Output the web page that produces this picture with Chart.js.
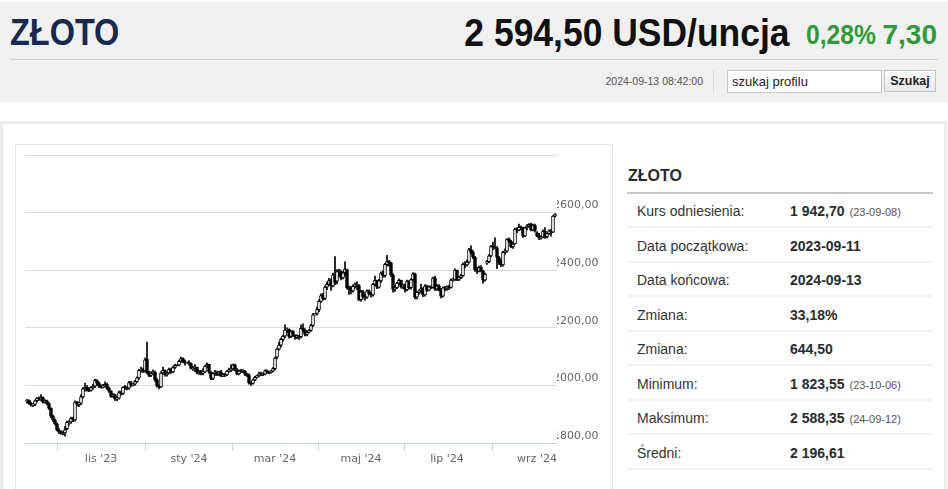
<!DOCTYPE html>
<html lang="pl"><head><meta charset="utf-8">
<script src="https://cdn.jsdelivr.net/npm/chart.js@4.4.1/dist/chart.umd.min.js"></script>
<style>
html,body{margin:0;padding:0;background:#fff;width:948px;height:489px;overflow:hidden;font-family:"Liberation Sans",Arial,sans-serif;color:#333;}
.abs{position:absolute;white-space:nowrap;}
#band{left:0;top:2px;width:948px;height:100px;background:#f0f0f0;}
#title{left:10px;top:14px;font:bold 37px/37px "Liberation Sans",Arial,sans-serif;color:#172a4d;transform:scaleX(0.877);transform-origin:left top;}
#price{right:158px;top:14px;font:bold 38px/38px "Liberation Sans",Arial,sans-serif;color:#111;transform:scaleX(0.933);transform-origin:right top;}
#pct{left:806px;top:21px;font:bold 28px/28px "Liberation Sans",Arial,sans-serif;color:#2f9a3a;transform:scaleX(0.88);transform-origin:left top;}
#chg{right:11px;top:21px;font:bold 28px/28px "Liberation Sans",Arial,sans-serif;color:#2f9a3a;}
#sep{left:10px;top:59px;width:928px;height:1px;background:#cfcfcf;}
#dt{right:245px;top:75px;font:10.5px/12px "Liberation Sans",Arial,sans-serif;color:#555;}
#vsep{left:713px;top:70px;width:1px;height:23px;background:#dadada;}
#inp{left:727px;top:70px;width:149px;height:21px;background:#fff;border:1px solid #c9c9c9;font:13px/21px "Liberation Sans",Arial,sans-serif;color:#222;padding-left:4px;box-sizing:content-box;}
#btn{left:884px;top:70px;width:50px;height:20px;background:linear-gradient(#fbfbfb,#e9e9e9);border:1px solid #c6c6c6;font:bold 12.5px/20px "Liberation Sans",Arial,sans-serif;color:#222;text-align:center;}
#outer{left:0;top:121px;width:941px;height:400px;border:3px solid #ececec;border-bottom:none;}
#cbox{left:15px;top:144px;width:596px;height:360px;border:1px solid #e6e6e6;border-bottom:none;}
#cv{position:absolute;left:16px;top:145px;}
#ptitle{left:628px;top:168px;font:bold 16px/16px "Liberation Sans",Arial,sans-serif;color:#2b2b2b;}
#pline{left:627px;top:192px;width:306px;height:2px;background:#c8c8c8;}
.row{position:absolute;left:627px;width:306px;height:34px;border-bottom:2px solid #f1f1f1;box-sizing:border-box;}
.lab{position:absolute;left:10px;top:9px;font:14px/16px "Liberation Sans",Arial,sans-serif;color:#333;}
.val{position:absolute;left:163px;top:9px;font:bold 14px/16px "Liberation Sans",Arial,sans-serif;color:#2b2b2b;}
.sm{font:11px "Liberation Sans",Arial,sans-serif;color:#555;font-weight:normal;margin-left:5px;}
</style></head>
<body>
<div id="band" class="abs"></div>
<div id="title" class="abs">ZŁOTO</div>
<div id="price" class="abs">2 594,50 USD/uncja</div>
<div id="pct" class="abs">0,28%</div>
<div id="chg" class="abs">7,30</div>
<div id="sep" class="abs"></div>
<div id="dt" class="abs">2024-09-13 08:42:00</div>
<div id="vsep" class="abs"></div>
<div id="inp" class="abs">szukaj profilu</div>
<div id="btn" class="abs">Szukaj</div>
<div id="outer" class="abs"></div>
<div id="cbox" class="abs"></div>
<canvas id="cv" width="595" height="344"></canvas>
<div id="ptitle" class="abs">ZŁOTO</div>
<div id="pline" class="abs"></div>
<div class="row" style="top:194px"><span class="lab">Kurs odniesienia:</span><span class="val">1 942,70<span class="sm">(23-09-08)</span></span></div>
<div class="row" style="top:228.5px"><span class="lab">Data początkowa:</span><span class="val">2023-09-11</span></div>
<div class="row" style="top:263px"><span class="lab">Data końcowa:</span><span class="val">2024-09-13</span></div>
<div class="row" style="top:297.5px"><span class="lab">Zmiana:</span><span class="val">33,18%</span></div>
<div class="row" style="top:332px"><span class="lab">Zmiana:</span><span class="val">644,50</span></div>
<div class="row" style="top:366.5px"><span class="lab">Minimum:</span><span class="val">1 823,55<span class="sm">(23-10-06)</span></span></div>
<div class="row" style="top:401px"><span class="lab">Maksimum:</span><span class="val">2 588,35<span class="sm">(24-09-12)</span></span></div>
<div class="row" style="top:435.5px"><span class="lab">Średni:</span><span class="val">2 196,61</span></div>
<script>
// trading days (weekdays) from start to end
const START_DATE = "2023-09-11";
const END_DATE = "2024-09-13";
// x-axis month ticks
const TICK_DATES = ["2023-11-01","2024-01-02","2024-03-01","2024-05-01","2024-07-01","2024-09-02"];
const TICK_LABELS = ["lis '23","sty '24","mar '24","maj '24","lip '24","wrz '24"];
const Y_MIN = 1800, Y_MAX = 2800, Y_STEP = 200;

// daily OHLC (USD/oz), month by month
const open = [
 1944,1948,1938,1932,1934,1947,1955,1953,1958,1942,1946,1937,1920,1893,1880,
 1866,1845,1838,1836,1835,1850,1872,1873,1886,1880,1940,1935,1938,1960,1988,1994,1986,1983,1992,1997,2016,2008,
 1997,1995,1997,2004,1990,1980,1962,1968,1952,1956,1975,1972,1993,1994,1990,2010,2002,2004,2013,2026,2052,2056,
 2050,2092,2044,2035,2042,2045,2020,1998,1995,2043,2052,2036,2043,2056,2047,2062,2070,2070,2084,2093,2082,
 2078,2080,2076,2059,2061,2063,2045,2048,2042,2047,2067,2073,2046,2024,2041,2047,2039,2047,2032,2039,2036,2050,2055,
 2057,2071,2054,2040,2050,2050,2049,2039,2035,2008,2007,2019,2028,2033,2040,2040,2039,2051,2046,2045,2049,
 2058,2098,2126,2140,2160,2171,2192,2195,2170,2187,2174,2168,2172,2169,2198,2193,2177,2184,2191,2208,2245,
 2250,2263,2292,2312,2302,2341,2351,2364,2345,2384,2362,2395,2395,2373,2391,2402,2339,2334,2328,2344,2349,2347,
 2298,2325,2308,2306,2328,2319,2314,2351,2365,2341,2363,2390,2381,2420,2430,2426,2383,2334,2339,2355,2365,2343,2348,
 2332,2362,2339,2367,2387,2306,2323,2328,2336,2314,2345,2331,2342,2340,2373,2334,2346,2332,2310,2339,
 2338,2342,2340,2366,2367,2400,2369,2374,2381,2420,2418,2428,2472,2462,2445,2402,2397,2410,2398,2365,2424,2430,2450,
 2482,2481,2478,2444,2425,2418,2462,2466,2507,2500,2482,2491,2542,2539,2549,2547,2519,2547,2553,2559,2540,2555,
 2530,2520,2512,2515,2535,2516,2527,2537,2532,2588
];
const high = [
 1952,1950,1942,1938,1950,1958,1960,1968,1960,1950,1949,1940,1922,1897,1884,
 1870,1850,1842,1841,1858,1876,1878,1890,1890,1946,1945,1942,1968,1992,2008,1999,1992,1996,2004,2022,2020,2012,
 2002,2004,2012,2008,1994,1982,1972,1970,1960,1980,1980,1996,2000,1996,2014,2014,2007,2018,2030,2056,2064,2060,
 2095,2150,2050,2048,2054,2050,2024,2002,2048,2064,2054,2046,2060,2060,2066,2074,2072,2088,2098,2096,2088,
 2082,2086,2078,2066,2072,2064,2052,2052,2058,2070,2078,2074,2048,2044,2052,2050,2050,2052,2042,2042,2052,2060,2072,
 2074,2074,2058,2054,2056,2055,2052,2042,2040,2014,2022,2032,2036,2046,2046,2044,2054,2054,2050,2052,2062,
 2098,2130,2150,2164,2175,2210,2200,2196,2190,2190,2176,2176,2174,2210,2214,2196,2188,2194,2212,2250,2250,
 2272,2298,2318,2320,2346,2360,2372,2370,2390,2447,2402,2404,2400,2396,2429,2404,2346,2344,2350,2356,2360,2350,
 2330,2330,2316,2332,2332,2322,2354,2380,2366,2368,2394,2398,2424,2452,2434,2428,2388,2346,2358,2370,2366,2352,2352,
 2366,2364,2370,2392,2390,2326,2332,2352,2340,2350,2348,2346,2346,2376,2380,2350,2350,2336,2342,2344,
 2346,2348,2370,2372,2405,2400,2378,2386,2426,2430,2436,2476,2485,2468,2448,2410,2414,2416,2400,2390,2434,2454,2486,
 2498,2512,2482,2448,2436,2466,2474,2510,2512,2504,2496,2546,2548,2560,2554,2550,2550,2558,2562,2564,2560,2560,
 2534,2528,2520,2540,2548,2530,2540,2542,2590,2597
];
const low = [
 1938,1934,1928,1926,1930,1942,1948,1946,1938,1938,1932,1916,1888,1874,1862,
 1842,1832,1830,1828,1824,1846,1862,1868,1874,1876,1928,1926,1932,1956,1980,1980,1978,1980,1986,1992,2000,1992,
 1990,1990,1994,1986,1976,1958,1958,1948,1946,1952,1966,1968,1986,1984,1986,1996,1998,2000,2010,2022,2046,2044,
 2046,2040,2030,2030,2038,2014,1994,1988,1992,2038,2032,2032,2040,2042,2044,2058,2068,2068,2080,2078,2070,
 2076,2070,2056,2052,2048,2040,2038,2036,2036,2044,2062,2042,2020,2020,2034,2034,2034,2030,2030,2030,2034,2046,2048,
 2052,2050,2036,2036,2044,2044,2034,2030,2004,2000,2004,2016,2026,2030,2034,2034,2036,2042,2040,2042,2046,
 2054,2092,2122,2134,2154,2166,2184,2164,2166,2170,2160,2162,2160,2164,2186,2172,2172,2182,2188,2204,2244,
 2244,2256,2288,2296,2298,2332,2346,2330,2342,2350,2352,2378,2366,2370,2380,2334,2316,2318,2324,2338,2332,2294,
 2292,2302,2296,2302,2314,2306,2310,2346,2336,2338,2358,2376,2376,2414,2414,2378,2324,2326,2336,2350,2338,2336,2324,
 2328,2334,2334,2362,2300,2300,2316,2320,2308,2310,2326,2328,2336,2338,2330,2330,2328,2304,2306,2328,
 2330,2332,2338,2362,2364,2364,2364,2370,2378,2408,2414,2424,2456,2440,2396,2388,2394,2394,2355,2362,2420,2426,2446,
 2470,2474,2405,2420,2412,2414,2456,2462,2496,2478,2476,2490,2530,2536,2540,2514,2516,2540,2550,2536,2536,2532,
 2516,2506,2508,2512,2510,2512,2524,2518,2530,2584
];
const close = [
 1948,1938,1932,1934,1946,1955,1953,1958,1942,1946,1937,1920,1893,1880,1866,
 1845,1838,1836,1835,1846,1872,1873,1886,1880,1942,1935,1938,1960,1988,1994,1986,1983,1992,1997,2018,2008,1997,
 1995,1997,2004,1990,1980,1962,1968,1952,1956,1975,1972,1993,1992,1990,2010,2002,2004,2013,2026,2052,2056,2050,
 2089,2044,2035,2042,2045,2020,1998,1995,2043,2052,2036,2043,2056,2047,2062,2070,2070,2084,2093,2082,2078,
 2080,2076,2059,2061,2063,2045,2048,2042,2047,2067,2073,2046,2024,2041,2047,2039,2047,2032,2039,2036,2050,2055,2057,
 2071,2056,2040,2050,2050,2049,2039,2035,2008,2007,2019,2028,2033,2040,2040,2039,2051,2046,2045,2049,2058,
 2095,2126,2140,2160,2171,2192,2195,2170,2187,2174,2168,2172,2169,2198,2193,2177,2184,2191,2208,2245,2248,
 2263,2292,2312,2302,2341,2351,2364,2345,2384,2358,2395,2395,2373,2391,2404,2339,2334,2328,2344,2349,2347,2298,
 2325,2308,2306,2328,2319,2314,2351,2365,2341,2363,2390,2381,2420,2430,2426,2383,2334,2339,2355,2365,2343,2348,2332,
 2362,2339,2367,2387,2306,2323,2328,2336,2314,2345,2331,2342,2340,2373,2334,2346,2332,2310,2339,2338,
 2342,2340,2366,2367,2400,2369,2374,2381,2420,2418,2428,2472,2462,2445,2402,2397,2410,2398,2365,2386,2430,2450,2482,
 2481,2478,2444,2425,2418,2462,2466,2507,2500,2482,2491,2542,2539,2549,2547,2519,2547,2553,2559,2540,2555,2538,
 2520,2512,2515,2535,2516,2527,2537,2532,2588,2594
];

// build trading-day list (categories)
const dates = [];
{
  let d = new Date(START_DATE + "T00:00:00Z");
  const end = new Date(END_DATE + "T00:00:00Z");
  while (d <= end) {
    const wd = d.getUTCDay();
    if (wd !== 0 && wd !== 6) dates.push(d.toISOString().slice(0,10));
    d = new Date(d.getTime() + 86400000);
  }
}
const n = Math.min(dates.length, close.length);
const tickIdx = TICK_DATES.map(t => dates.indexOf(t));

const wickData = [], bodyData = [];
for (let i = 0; i < n; i++) {
  wickData.push({x: i, y: [low[i], high[i]]});
  bodyData.push({x: i, y: [open[i], close[i]]});
}
const fmt = v => v.toFixed(2).replace('.', ',');

new Chart(document.getElementById('cv'), {
  type: 'bar',
  data: {
    datasets: [
      { label: 'body', data: bodyData, order: 0, grouped: false, barThickness: 3,
        backgroundColor: c => { const r = c.raw; return (r && r.y[1] >= r.y[0]) ? '#ffffff' : '#000000'; },
        borderColor: '#000000', borderWidth: 1, borderSkipped: false },
      { label: 'wick', data: wickData, order: 1, grouped: false, barThickness: 1,
        backgroundColor: '#000000', borderWidth: 0 }
    ]
  },
  options: {
    responsive: false, animation: false, devicePixelRatio: 1,
    layout: { padding: { left: 9, top: 10, right: 0, bottom: 16 } },
    plugins: { legend: { display: false }, tooltip: { enabled: false } },
    scales: {
      x: {
        type: 'linear', min: -1, max: n, offset: false,
        afterBuildTicks: s => { s.ticks = tickIdx.filter(v => v >= 0).map(v => ({ value: v })); },
        afterFit: s => { s.height = 30; },
        grid: { drawOnChartArea: false, drawTicks: true, tickLength: 8, color: '#c5d3e3' },
        border: { color: '#c5d3e3', width: 1 },
        ticks: { autoSkip: false, maxRotation: 0, padding: 2, color: '#666666',
          font: { family: 'DejaVu Sans', size: 11 },
          callback: v => { const k = tickIdx.indexOf(v); return k >= 0 ? TICK_LABELS[k] : ''; } }
      },
      y: {
        position: 'right', min: Y_MIN, max: Y_MAX,
        afterFit: s => { s.width = 54; },
        grid: { drawTicks: false, color: c => (c.tick && c.tick.value === Y_MIN) ? 'rgba(0,0,0,0)' : '#d9d9d9' },
        border: { display: false },
        ticks: { stepSize: Y_STEP, padding: -4, labelOffset: -7, color: '#666666',
          font: { family: 'DejaVu Sans', size: 11 },
          callback: v => v === Y_MAX ? '' : fmt(v) }
      }
    }
  }
});
</script>
</body></html>
